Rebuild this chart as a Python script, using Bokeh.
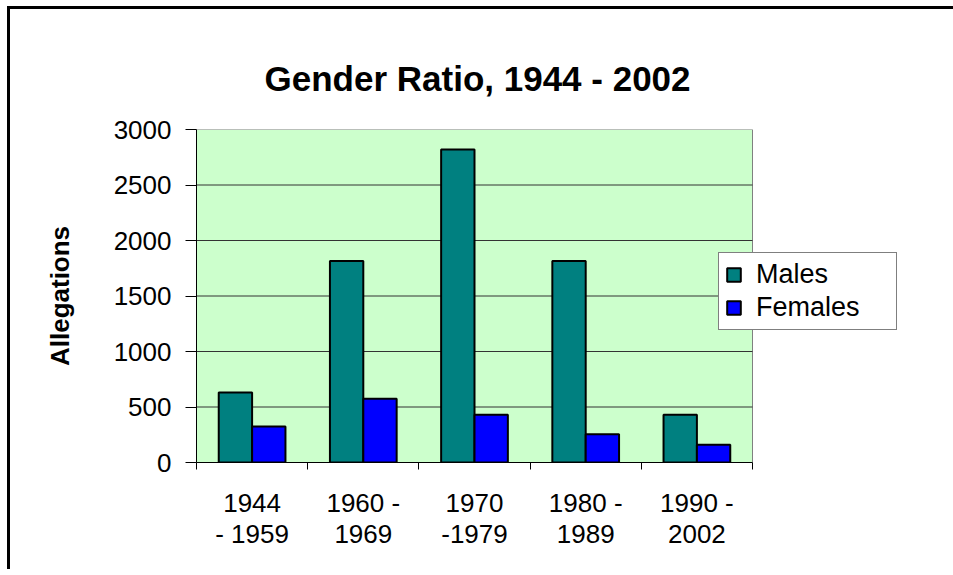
from bokeh.plotting import figure
from bokeh.models import ColumnDataSource, FixedTicker, Legend, LegendItem, Range1d
from bokeh.transform import dodge
from bokeh.embed import file_html
from bokeh.resources import INLINE

categories = ["1944\n- 1959", "1960 -\n1969", "1970\n-1979", "1980 -\n1989", "1990 -\n2002"]
males = [630, 1815, 2820, 1815, 430]
females = [325, 575, 430, 255, 160]
y_ticks = [0, 500, 1000, 1500, 2000, 2500, 3000]

n = len(categories)
y_max = max(y_ticks)
centers = [i + 0.5 for i in range(n)]
src = ColumnDataSource(dict(x=centers, males=males, females=females))
grid_src = ColumnDataSource(dict(y=y_ticks[1:-1]))

FONT = "Liberation Sans"

# frame extends to the right so the legend can overlap the plot area edge
x_end = n * (930 - 196) / (752 - 196)

p = figure(width=965, height=563, output_backend="svg", toolbar_location=None,
           x_range=Range1d(0, x_end), y_range=Range1d(0, y_max),
           title="Gender Ratio, 1944 - 2002",
           min_border_left=186, min_border_right=45, min_border_top=120, min_border_bottom=110)

# chart frame: only left and top edges visible, as in the reference
p.styles = {"margin-left": "10px", "margin-top": "9px",
            "box-shadow": "-3px -3px 0px 0px black"}

p.background_fill_color = "white"
p.border_fill_color = "white"
p.outline_line_color = None

p.title.text_font = FONT
p.title.text_font_size = "35px"
p.title.text_font_style = "bold"
p.title.text_color = "black"
p.title.align = "left"
p.title.offset = 68
p.title.standoff = 64

# plot area (green) with grey border
p.quad(left=0, right=n, bottom=0, top=y_max, fill_color="#CCFFCC",
       line_color="#808080", line_width=1)
# horizontal grid lines limited to the plot area
p.segment(x0=0, x1=n, y0="y", y1="y", source=grid_src, line_color="#333333", line_width=1)

r_m = p.vbar(x=dodge("x", -0.15), top="males", width=0.3, source=src,
             fill_color="#008080", line_color="black", line_width=2)
r_f = p.vbar(x=dodge("x", 0.15), top="females", width=0.3, source=src,
             fill_color="#0000FF", line_color="black", line_width=2)

# x axis
xa = p.xaxis[0]
xa.bounds = (0, n)
xa.ticker = FixedTicker(ticks=centers, minor_ticks=list(range(n + 1)))
xa.major_label_overrides = {c: lab for c, lab in zip(centers, categories)}
xa.major_tick_out = 0
xa.major_tick_in = 0
xa.minor_tick_out = 7
xa.minor_tick_in = 0
xa.minor_tick_line_color = "black"
xa.axis_line_color = "black"
xa.major_label_text_font = FONT
xa.major_label_text_font_size = "26px"
xa.major_label_text_color = "black"
xa.major_label_text_line_height = 1.05
xa.major_label_standoff = 18

# y axis
ya = p.yaxis[0]
ya.ticker = FixedTicker(ticks=y_ticks)
ya.major_tick_out = 11
ya.major_tick_in = 0
ya.minor_tick_line_color = None
ya.axis_line_color = "black"
ya.major_label_text_font = FONT
ya.major_label_text_font_size = "26px"
ya.major_label_text_color = "black"
ya.major_label_standoff = 14
ya.axis_label = "Allegations"
ya.axis_label_text_font = FONT
ya.axis_label_text_font_size = "26px"
ya.axis_label_text_font_style = "bold"
ya.axis_label_text_color = "black"
ya.axis_label_standoff = 36

p.xgrid.grid_line_color = None
p.ygrid.grid_line_color = None

legend = Legend(items=[LegendItem(label="Males", renderers=[r_m]),
                       LegendItem(label="Females", renderers=[r_f])],
                location=(522, 132), padding=6, spacing=2, margin=0,
                glyph_width=17, glyph_height=17, label_standoff=14,
                label_text_font=FONT, label_text_font_size="27px",
                label_text_color="black",
                border_line_color="black", border_line_width=1,
                background_fill_color="white", background_fill_alpha=1.0,
                label_width=134)
p.add_layout(legend, "center")

open("out.html", "w").write(file_html(p, INLINE))
